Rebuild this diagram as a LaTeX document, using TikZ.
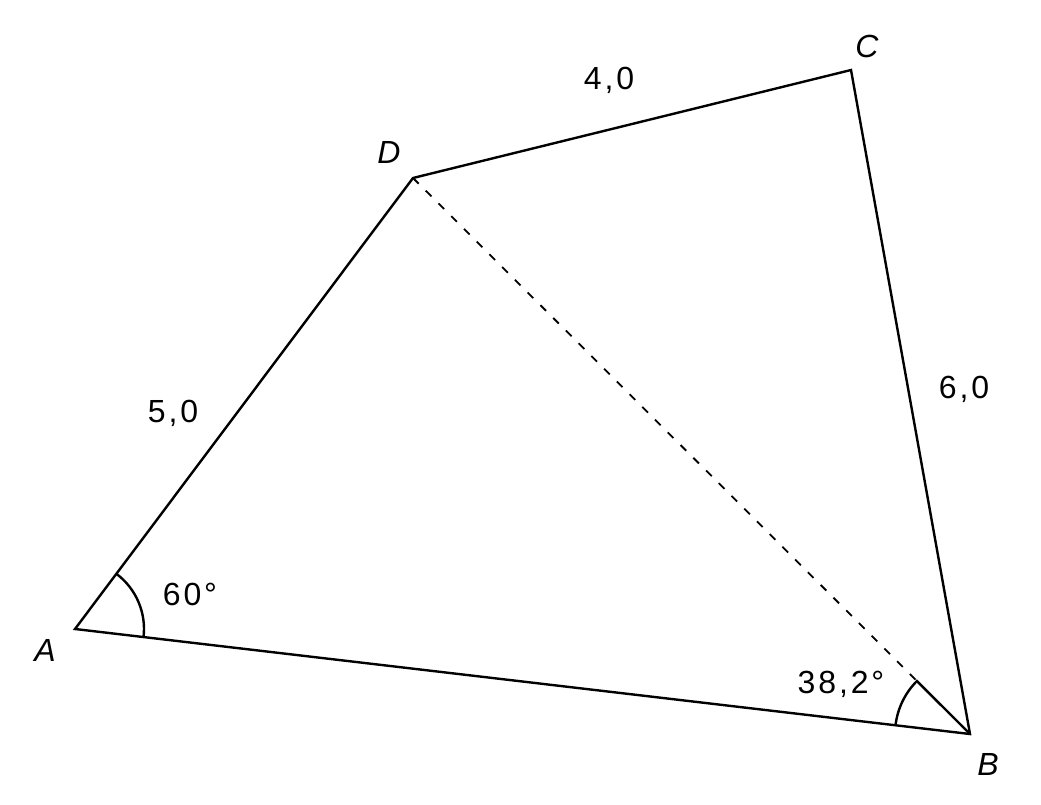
\documentclass[tikz,border=0pt]{standalone}
\usepackage{fontspec}
\setmainfont{Liberation Sans}[LetterSpace=9]
\usetikzlibrary{calc}
\begin{document}
\begin{tikzpicture}[x=1pt,y=-1pt,
  edge/.style={line width=2.4pt, line join=miter},
  dashedge/.style={line width=1.8pt, dash pattern=on 8pt off 10pt},
  lbl/.style={font=\fontsize{32}{32}\selectfont, inner sep=0pt},
  pt/.style={font=\fontsize{32}{32}\selectfont\itshape, inner sep=0pt}]
\useasboundingbox (0,0) rectangle (1041,804);
\fill[white] (0,0) rectangle (1041,804);
\coordinate (A) at (75,629);
\coordinate (B) at (970,734);
\coordinate (C) at (851,70);
\coordinate (D) at (413,178);
\draw[edge] (A) -- (D) -- (C) -- (B) -- cycle;
\draw[dashedge] (D) -- (B);
% angle at A
\draw[edge] let \p1=($(B)-(A)$), \p2=($(D)-(A)$),
  \n1={atan2(-\y1,\x1)}, \n2={atan2(-\y2,\x2)} in
  ($(A)+(\n1:69)$) arc[start angle=\n1, end angle=\n2, radius=69];
% angle at B
\draw[edge] let \p1=($(A)-(B)$), \p2=($(D)-(B)$),
  \n1={atan2(-\y1,\x1)}, \n2={atan2(-\y2,\x2)} in
  ($(B)+(\n1:75)$) arc[start angle=\n1, end angle=\n2, radius=75] -- (B);
\node[pt] (lA) at (45,650) {A};
\node[pt] (lB) at (988,764) {B};
\node[pt] (lC) at (867,46) {C};
\node[pt] (lD) at (389,152) {D};
\node[lbl] (a60) at (190,594) {60°};
\node[lbl] (a38) at (841,684) {38,2°};
\node[lbl] (l40) at (609,80) {4,0};
\node[lbl] (l50) at (173,413) {5,0};
\node[lbl] (l60) at (964,389) {6,0};
\end{tikzpicture}
\end{document}
